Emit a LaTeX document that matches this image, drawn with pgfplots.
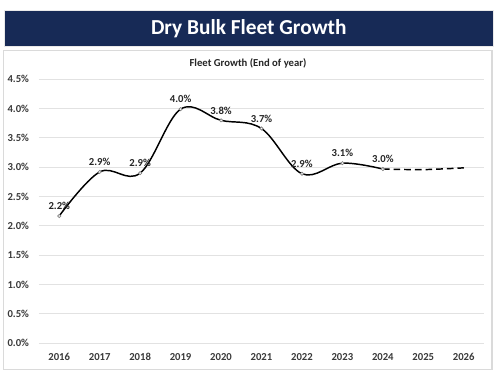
\documentclass[border=0pt]{standalone}
\usepackage{pgfplots}
\pgfplotsset{compat=1.18}
\usepackage{fontspec}
\setmainfont{Carlito}
\definecolor{navy}{HTML}{172A56}
\definecolor{gridc}{HTML}{E2E2E2}
\definecolor{panelc}{HTML}{DADADA}
\definecolor{txt}{HTML}{3A3A3A}
\begin{document}
\begin{tikzpicture}
\useasboundingbox (0,0) rectangle (375pt,284.25pt);
\fill[white] (0,0) rectangle (375pt,284.25pt);
\draw[panelc, line width=0.8pt] (2.5pt,7.1pt) rectangle (369pt,246.2pt);
\fill[navy] (3pt,249.2pt) rectangle (369.75pt,276.75pt);
\draw[panelc!60, line width=0.6pt] (3pt,249.2pt) rectangle (369.75pt,276.75pt);
\node[text=white,font=\bfseries\fontsize{16}{18}\selectfont] at (186.6pt,263pt) {Dry Bulk Fleet Growth};
\node[text=black!85, font=\bfseries\fontsize{8}{9}\selectfont] at (186pt,237pt) {Fleet Growth (End of year)};
\begin{axis}[
  at={(29.25pt,26.8pt)}, anchor=south west,
  scale only axis, width=333.75pt, height=198pt,
  xmin=2015.5, xmax=2026.5, ymin=0, ymax=4.5,
  xtick={2016,...,2026}, ytick={0,0.5,...,4.5},
  axis line style={draw=none},
  major tick length=0pt,
  ymajorgrids, grid style={gridc, line width=0.8pt},
  /pgf/number format/assume math mode=true,
  /pgf/number format/1000 sep={},
  xticklabel style={font=\bfseries\fontsize{8}{9}\selectfont, text=txt, yshift=-4pt},
  yticklabel style={font=\bfseries\fontsize{8}{9}\selectfont, text=txt, xshift=-4pt},
  yticklabel={\pgfmathprintnumber[fixed,fixed zerofill,precision=1]{\tick}\%},
  clip=false,
]
\addplot[black, line width=1.1pt, smooth, tension=0.6,
  mark=*, mark size=1.2pt, mark options={fill=white, draw=gray, line width=0.5pt, solid},
  nodes near coords, point meta=explicit symbolic,
  every node near coord/.append style={font=\bfseries\fontsize{8}{9}\selectfont, text=black!85, yshift=1pt}]
  table[meta=lab] {
  x y lab
  2016 2.17 2.2\%
  2017 2.92 2.9\%
  2018 2.90 2.9\%
  2019 3.99 4.0\%
  2020 3.80 3.8\%
  2021 3.66 3.7\%
  2022 2.89 2.9\%
  2023 3.07 3.1\%
  2024 2.97 3.0\%
  };
\addplot[black, line width=1.1pt, dash pattern=on 5pt off 3pt, smooth, no marks]
  table {
  x y
  2024 2.97
  2025 2.96
  2026 2.99
  };
\addplot[only marks, mark=*, mark size=1.2pt, mark options={fill=white, draw=gray, line width=0.5pt}] table {
  x y
  2024 2.97
  };
\end{axis}
\end{tikzpicture}
\end{document}
